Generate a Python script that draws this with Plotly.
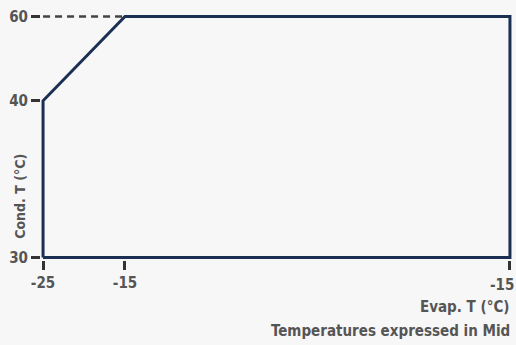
import plotly.graph_objects as go

# Operating envelope (axis positions) and tick labels
evap = [-25, -25, -15, 32, 32, -25]
cond = [30, 49.5, 60, 60, 30, 30]
x_tick_vals = [-25, -15, 32]
x_tick_text = ["-25", "-15", "-15"]
y_tick_vals = [30, 49.5, 60]
y_tick_text = ["30", "40", "60"]

FONT = "DejaVu Sans Condensed, Arial Narrow, sans-serif"
BG = "#f7f7f7"
TXT = "#555555"
TICK_FONT = dict(family=FONT, size=15, color=TXT, weight="bold")

fig = go.Figure()

# dashed guide from the axis to the top-left corner
fig.add_trace(go.Scatter(
    x=[evap[0], evap[2]], y=[cond[2], cond[2]], mode="lines",
    line=dict(color="#444444", width=2.5, dash="7px,5px"),
    hoverinfo="skip",
))
fig.add_trace(go.Scatter(
    x=evap, y=cond, mode="lines",
    line=dict(color="#1b2f52", width=3),
))

# the rightmost label sits flush with the page edge, so it is placed by hand
axis_x_text = x_tick_text[:-1] + [""]

fig.update_layout(
    width=516, height=345,
    margin=dict(l=41, r=4, t=14, b=85, autoexpand=False),
    paper_bgcolor=BG, plot_bgcolor=BG,
    showlegend=False,
    font=dict(family=FONT, color=TXT, size=15),
    xaxis=dict(
        range=[-25.25, 32.25], tickvals=x_tick_vals, ticktext=axis_x_text,
        showgrid=False, zeroline=False, showline=False,
        ticks="outside", ticklen=9, tickwidth=3, tickcolor="#333333",
        tickfont=TICK_FONT,
    ),
    yaxis=dict(
        range=[29.7, 60.3], tickvals=y_tick_vals, ticktext=y_tick_text,
        showgrid=False, zeroline=False, showline=False,
        ticks="outside", ticklen=9, tickwidth=3, tickcolor="#333333",
        tickfont=TICK_FONT,
    ),
    annotations=[
        dict(text=x_tick_text[-1], xref="x", yref="paper", x=x_tick_vals[-1], y=0,
             yshift=-25, xshift=6, showarrow=False, xanchor="right", yanchor="middle",
             font=TICK_FONT),
        dict(text="Cond. T (°C)", xref="paper", yref="paper", x=-0.045, y=0.26,
             textangle=-90, showarrow=False, xanchor="center", yanchor="middle",
             font=dict(family=FONT, size=14, color=TXT, weight="bold")),
        dict(text="Evap. T (°C)", xref="paper", yref="paper", x=1.0, y=-0.19,
             showarrow=False, xanchor="right", yanchor="middle",
             font=dict(family=FONT, size=15, color=TXT, weight="bold")),
        dict(text="Temperatures expressed in Mid", xref="paper", yref="paper", x=1.0, y=-0.29,
             showarrow=False, xanchor="right", yanchor="middle",
             font=dict(family=FONT, size=15, color=TXT, weight="bold")),
    ],
)

fig.write_html("out.html")
